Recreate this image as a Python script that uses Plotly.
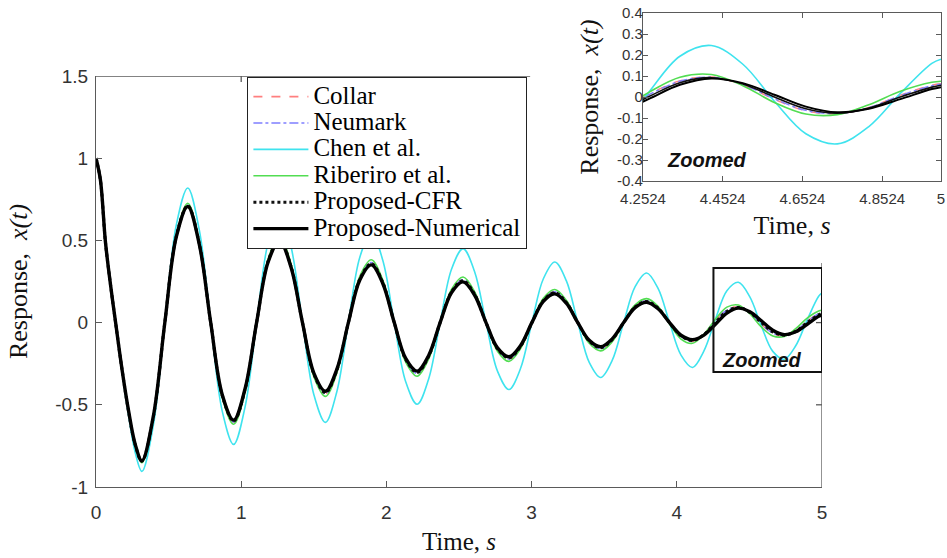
import plotly.graph_objects as go

# ---------------- data ----------------
time_s = [0, 0.03, 0.065, 0.1, 0.135, 0.18, 0.225, 0.27,
          0.316, 0.395, 0.474, 0.553,
          0.632, 0.711, 0.79, 0.869,
          0.948, 1.027, 1.106, 1.185,
          1.264, 1.343, 1.422, 1.501,
          1.58, 1.659, 1.738, 1.817,
          1.896, 1.975, 2.054, 2.133,
          2.212, 2.291, 2.37, 2.449,
          2.528, 2.607, 2.686, 2.765,
          2.844, 2.923, 3.002, 3.081,
          3.16, 3.239, 3.318, 3.397,
          3.476, 3.555, 3.634, 3.713,
          3.792, 3.871, 3.95, 4.029,
          4.108, 4.187, 4.266, 4.345,
          4.424, 4.503, 4.582, 4.661,
          4.74, 4.819, 4.898, 4.977,
          5.0]

collar = [1.0, 0.87, 0.49, 0.23, 0.0, -0.29, -0.545, -0.745,
          -0.846, -0.574, 0.0, 0.529,
          0.716, 0.485, 0.0, -0.447,
          -0.605, -0.410, 0.0, 0.378,
          0.512, 0.347, 0.0, -0.319,
          -0.433, -0.294, 0.0, 0.270,
          0.367, 0.249, 0.0, -0.229,
          -0.310, -0.210, 0.0, 0.193,
          0.262, 0.178, 0.0, -0.163,
          -0.222, -0.151, 0.0, 0.139,
          0.188, 0.127, 0.0, -0.117,
          -0.159, -0.108, 0.0, 0.099,
          0.134, 0.091, 0.0, -0.084,
          -0.114, -0.069, 0.012, 0.077,
          0.095, 0.058, -0.011, -0.066,
          -0.080, -0.050, 0.009, 0.056,
          0.063]

neumark = [1.0, 0.87, 0.49, 0.23, 0.0, -0.29, -0.544, -0.744,
           -0.845, -0.573, 0.0, 0.528,
           0.715, 0.484, 0.0, -0.446,
           -0.604, -0.409, 0.0, 0.377,
           0.511, 0.346, 0.0, -0.318,
           -0.432, -0.293, 0.0, 0.269,
           0.366, 0.248, 0.0, -0.228,
           -0.309, -0.209, 0.0, 0.192,
           0.261, 0.177, 0.0, -0.162,
           -0.221, -0.150, 0.0, 0.138,
           0.187, 0.126, 0.0, -0.116,
           -0.158, -0.107, 0.0, 0.098,
           0.133, 0.090, 0.0, -0.083,
           -0.113, -0.069, 0.010, 0.075,
           0.094, 0.059, -0.009, -0.064,
           -0.079, -0.051, 0.007, 0.054,
           0.061]

chen = [1.0, 0.87, 0.49, 0.23, 0.0, -0.30, -0.57, -0.79,
        -0.905, -0.624, 0.0, 0.594,
        0.819, 0.565, 0.0, -0.537,
        -0.741, -0.511, 0.0, 0.486,
        0.671, 0.463, 0.0, -0.440,
        -0.607, -0.419, 0.0, 0.398,
        0.549, 0.379, 0.0, -0.360,
        -0.497, -0.343, 0.0, 0.326,
        0.450, 0.311, 0.0, -0.295,
        -0.407, -0.281, 0.0, 0.267,
        0.369, 0.255, 0.0, -0.242,
        -0.334, -0.230, 0.0, 0.219,
        0.302, 0.208, 0.0, -0.198,
        -0.273, -0.172, 0.020, 0.194,
        0.245, 0.156, -0.020, -0.175,
        -0.223, -0.141, 0.017, 0.160,
        0.180]

riberiro = [1.0, 0.87, 0.49, 0.23, 0.0, -0.295, -0.55, -0.75,
            -0.852, -0.579, 0.0, 0.534,
            0.726, 0.493, 0.0, -0.455,
            -0.618, -0.420, 0.0, 0.387,
            0.527, 0.358, 0.0, -0.330,
            -0.449, -0.305, 0.0, 0.282,
            0.382, 0.259, 0.0, -0.240,
            -0.326, -0.221, 0.0, 0.204,
            0.277, 0.188, 0.0, -0.174,
            -0.236, -0.160, 0.0, 0.148,
            0.201, 0.136, 0.0, -0.126,
            -0.172, -0.117, 0.0, 0.108,
            0.146, 0.099, -0.008, -0.100,
            -0.126, -0.071, 0.021, 0.094,
            0.107, 0.054, -0.026, -0.081,
            -0.084, -0.037, 0.027, 0.070,
            0.075]

proposed_cfr = [1.0, 0.87, 0.49, 0.23, 0.0, -0.29, -0.543, -0.743,
                -0.843, -0.572, 0.0, 0.525,
                0.711, 0.482, 0.0, -0.442,
                -0.599, -0.406, 0.0, 0.373,
                0.505, 0.342, 0.0, -0.314,
                -0.426, -0.289, 0.0, 0.265,
                0.359, 0.244, 0.0, -0.224,
                -0.303, -0.205, 0.0, 0.188,
                0.255, 0.173, 0.0, -0.159,
                -0.215, -0.146, 0.0, 0.134,
                0.182, 0.123, 0.0, -0.113,
                -0.153, -0.104, 0.0, 0.095,
                0.129, 0.088, 0.0, -0.081,
                -0.109, -0.073, 0.001, 0.068,
                0.092, 0.062, 0.000, -0.056,
                -0.077, -0.053, 0.000, 0.047,
                0.056]

proposed_numerical = [1.0, 0.87, 0.49, 0.23, 0.0, -0.29, -0.54, -0.74,
                      -0.840, -0.569, 0.0, 0.521,
                      0.706, 0.478, 0.0, -0.437,
                      -0.593, -0.401, 0.0, 0.367,
                      0.498, 0.337, 0.0, -0.309,
                      -0.418, -0.283, 0.0, 0.259,
                      0.351, 0.238, 0.0, -0.218,
                      -0.295, -0.200, 0.0, 0.183,
                      0.248, 0.168, 0.0, -0.154,
                      -0.208, -0.141, 0.0, 0.129,
                      0.175, 0.118, 0.0, -0.108,
                      -0.147, -0.099, 0.0, 0.091,
                      0.123, 0.084, 0.0, -0.077,
                      -0.104, -0.076, -0.010, 0.058,
                      0.088, 0.066, 0.011, -0.046,
                      -0.073, -0.056, -0.010, 0.038,
                      0.047]

series_names = ["Collar", "Neumark", "Chen et al.", "Riberiro et al.",
                "Proposed-CFR", "Proposed-Numerical"]

main_xticks = [0, 1, 2, 3, 4, 5]
main_xticktext = ["0", "1", "2", "3", "4", "5"]
main_yticks = [-1, -0.5, 0, 0.5, 1, 1.5]
main_yticktext = ["-1", "-0.5", "0", "0.5", "1", "1.5"]
inset_xticks = [4.2524, 4.4524, 4.6524, 4.8524, 5]
inset_xticktext = ["4.2524", "4.4524", "4.6524", "4.8524", "5"]
inset_yticks = [-0.4, -0.3, -0.2, -0.1, 0, 0.1, 0.2, 0.3, 0.4]
inset_yticktext = ["-0.4", "-0.3", "-0.2", "-0.1", "0", "0.1", "0.2", "0.3", "0.4"]
zoom_window_x = [4.2524, 5]
zoom_window_y = [-0.30, 0.332]

# ---------------- styles ----------------
series_values = [collar, neumark, chen, riberiro, proposed_cfr, proposed_numerical]
styles = [
    dict(color="#ff7f7f", dash="dash", width=1.6, iw=1.4),
    dict(color="#7f7fff", dash="dashdot", width=1.6, iw=1.4),
    dict(color="#3fe3ee", dash="solid", width=1.6, iw=1.6),
    dict(color="#52dd52", dash="solid", width=1.6, iw=1.6),
    dict(color="#111111", dash="dot", width=3.0, iw=1.6),
    dict(color="#000000", dash="solid", width=3.4, iw=2.0),
]

SERIF = "Liberation Serif, Times New Roman, serif"
SANS = "Liberation Sans, Arial, sans-serif"
W, H = 947, 558

fig = go.Figure()
for name, vals, st in zip(series_names, series_values, styles):
    fig.add_trace(go.Scatter(
        x=time_s, y=vals, mode="lines",
        name='<span style="font-size:25px">' + name + "</span>",
        line=dict(color=st["color"], dash=st["dash"], width=st["width"],
                  shape="spline", smoothing=1.0),
        xaxis="x", yaxis="y", showlegend=True))
for name, vals, st in zip(series_names, series_values, styles):
    fig.add_trace(go.Scatter(
        x=time_s, y=vals, mode="lines", name=name,
        line=dict(color=st["color"], dash="solid" if st["dash"] == "dot" else st["dash"],
                  width=st["iw"], shape="spline", smoothing=1.0),
        xaxis="x2", yaxis="y2", showlegend=False))

axcol = "#5a5a5a"
tickcol = "#333333"

main_x = [96 / W, 822 / W]
main_y = [(H - 487) / H, (H - 76) / H]
ins_x = [643 / W, 941 / W]
ins_y = [(H - 181) / H, (H - 13) / H]

fig.update_layout(
    width=W, height=H,
    margin=dict(l=0, r=0, t=0, b=0, autoexpand=False),
    paper_bgcolor="white", plot_bgcolor="white",
    xaxis=dict(domain=main_x, range=[0, 5], showline=True, linecolor=axcol, linewidth=1.3,
               automargin=False,
               ticks="inside", ticklen=6, tickcolor=axcol, tickvals=main_xticks,
               ticktext=main_xticktext, tickfont=dict(family=SANS, size=19, color=tickcol),
               ticklabelstandoff=8, showgrid=False, zeroline=False,
               title=dict(text="Time, <i>s</i>", font=dict(family=SERIF, size=25, color="#111"),
                          standoff=10)),
    yaxis=dict(domain=main_y, range=[-1, 1.5], showline=True, linecolor=axcol, linewidth=1.3,
               automargin=False,
               ticks="inside", ticklen=6, tickcolor=axcol, tickvals=main_yticks,
               ticktext=main_yticktext, tickfont=dict(family=SANS, size=19, color=tickcol),
               ticklabelstandoff=3, showgrid=False, zeroline=False,
               title=dict(text="Response,  <i>x(t)</i>", font=dict(family=SERIF, size=26, color="#111"),
                          standoff=20)),
    xaxis2=dict(domain=ins_x, range=[4.2524, 5], anchor="y2", showline=True, mirror="ticks",
                automargin=False, ticklabeloverflow="allow",
                linecolor=axcol, linewidth=1.2, ticks="inside", ticklen=5, tickcolor=axcol,
                tickvals=inset_xticks, ticktext=inset_xticktext,
                tickfont=dict(family=SANS, size=15, color=tickcol), ticklabelstandoff=4,
                showgrid=False, zeroline=False,
                title=dict(text="Time, <i>s</i>", font=dict(family=SERIF, size=26, color="#111"),
                           standoff=9)),
    yaxis2=dict(domain=ins_y, range=[-0.4, 0.4], anchor="x2", showline=True, mirror="ticks",
                automargin=False,
                linecolor=axcol, linewidth=1.2, ticks="inside", ticklen=5, tickcolor=axcol,
                tickvals=inset_yticks, ticktext=inset_yticktext,
                tickfont=dict(family=SANS, size=15, color=tickcol), ticklabelstandoff=-4,
                showgrid=False, zeroline=False,
                title=dict(text="Response,  <i>x(t)</i>", font=dict(family=SERIF, size=26, color="#111"),
                           standoff=10)),
    legend=dict(x=247 / W, y=1 - 77 / H, xanchor="left", yanchor="top",
                bgcolor="white", bordercolor="#222", borderwidth=1.4,
                font=dict(family=SERIF, size=18, color="#000"),
                itemwidth=55, tracegroupgap=0),
    showlegend=True,
)

# partial frame of the main axes (the upper right part is covered by the inset panel)
frame = dict(color=axcol, width=1.3)
shapes = [
    dict(type="line", xref="x", yref="y", x0=0, x1=2.99, y0=1.5, y1=1.5, line=frame),
    dict(type="line", xref="x", yref="y", x0=5, x1=5, y0=-1, y1=0.3625, line=frame),
    dict(type="line", xref="x", yref="y", x0=1, x1=1, y0=1.5, y1=1.4635, line=frame),
    dict(type="line", xref="x", yref="y", x0=5, x1=4.9587, y0=0, y1=0, line=frame),
    dict(type="line", xref="x", yref="y", x0=5, x1=4.9587, y0=-0.5, y1=-0.5, line=frame),
    dict(type="rect", xref="x", yref="y", x0=zoom_window_x[0], x1=zoom_window_x[1],
         y0=zoom_window_y[0], y1=zoom_window_y[1], line=dict(color="#111", width=2)),
]
fig.update_layout(shapes=shapes)

fig.add_annotation(x=4.590, y=-0.228, xref="x", yref="y", text="<b><i>Zoomed</i></b>",
                   showarrow=False, font=dict(family=SANS, size=20, color="#111"))
fig.add_annotation(x=4.412, y=-0.30, xref="x2", yref="y2", text="<b><i>Zoomed</i></b>",
                   showarrow=False, font=dict(family=SANS, size=20, color="#111"))

# the page body has a default 8px margin; remove it so the figure sits at the window's corner
fig.write_html("out.html", config={"displayModeBar": False},
               post_script="document.body.style.margin='0';")
